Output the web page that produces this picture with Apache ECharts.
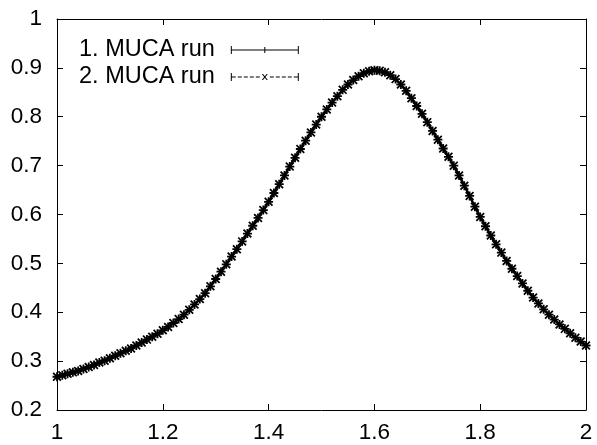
<!DOCTYPE html>
<html>
<head>
<meta charset="utf-8">
<script src="https://cdn.jsdelivr.net/npm/echarts@6/dist/echarts.min.js"></script>
<style>
html,body{margin:0;padding:0;background:#fff;}
#c{width:597px;height:445px;}
</style>
</head>
<body>
<div id="c"></div>
<script>
var xValues = [1.00,1.01,1.02,1.03,1.04,1.05,1.06,1.07,1.08,1.09,
  1.10,1.11,1.12,1.13,1.14,1.15,1.16,1.17,1.18,1.19,
  1.20,1.21,1.22,1.23,1.24,1.25,1.26,1.27,1.28,1.29,
  1.30,1.31,1.32,1.33,1.34,1.35,1.36,1.37,1.38,1.39,
  1.40,1.41,1.42,1.43,1.44,1.45,1.46,1.47,1.48,1.49,
  1.50,1.51,1.52,1.53,1.54,1.55,1.56,1.57,1.58,1.59,
  1.60,1.61,1.62,1.63,1.64,1.65,1.66,1.67,1.68,1.69,
  1.70,1.71,1.72,1.73,1.74,1.75,1.76,1.77,1.78,1.79,
  1.80,1.81,1.82,1.83,1.84,1.85,1.86,1.87,1.88,1.89,
  1.90,1.91,1.92,1.93,1.94,1.95,1.96,1.97,1.98,1.99,2.00];

var run1 = [0.268,0.271,0.274,0.277,0.280,0.284,0.288,0.292,0.297,0.301,
  0.306,0.311,0.316,0.321,0.326,0.332,0.338,0.344,0.350,0.356,
  0.363,0.370,0.378,0.386,0.395,0.405,0.416,0.427,0.439,0.453,
  0.468,0.483,0.498,0.514,0.529,0.545,0.561,0.577,0.593,0.609,
  0.626,0.644,0.662,0.680,0.698,0.716,0.734,0.751,0.768,0.784,
  0.800,0.815,0.829,0.842,0.855,0.866,0.875,0.883,0.889,0.893,
  0.895,0.894,0.891,0.885,0.877,0.866,0.853,0.838,0.822,0.806,
  0.789,0.771,0.753,0.735,0.718,0.700,0.680,0.659,0.638,0.616,
  0.595,0.576,0.557,0.539,0.522,0.505,0.489,0.474,0.459,0.444,
  0.430,0.418,0.406,0.395,0.385,0.375,0.366,0.357,0.348,0.340,0.332];

var run2 = [0.268,0.271,0.274,0.277,0.280,0.284,0.288,0.292,0.297,0.301,
  0.306,0.311,0.316,0.321,0.326,0.332,0.338,0.344,0.350,0.356,
  0.363,0.370,0.378,0.386,0.395,0.405,0.416,0.427,0.439,0.453,
  0.468,0.483,0.498,0.514,0.529,0.545,0.561,0.577,0.593,0.609,
  0.626,0.644,0.662,0.680,0.698,0.716,0.734,0.751,0.768,0.784,
  0.800,0.815,0.829,0.842,0.855,0.866,0.875,0.883,0.889,0.893,
  0.895,0.894,0.891,0.885,0.877,0.866,0.853,0.838,0.822,0.806,
  0.789,0.771,0.753,0.735,0.718,0.700,0.680,0.659,0.638,0.616,
  0.595,0.576,0.557,0.539,0.522,0.505,0.489,0.474,0.459,0.444,
  0.430,0.418,0.406,0.395,0.385,0.375,0.366,0.357,0.348,0.340,0.332];

var seriesNames = ['1. MUCA run', '2. MUCA run'];
var xTickLabels = ['1', '1.2', '1.4', '1.6', '1.8', '2'];
var yTickLabels = ['0.2', '0.3', '0.4', '0.5', '0.6', '0.7', '0.8', '0.9', '1'];

function pairs(xs, ys) {
  var out = [];
  for (var i = 0; i < xs.length; i++) out.push([xs[i], ys[i]]);
  return out;
}

var FONT = 'Liberation Sans, Arial, Helvetica, sans-serif';
var plusSym = 'path://M0,3.2H8V4.8H0Z M3.2,0H4.8V8H3.2Z';
var crossSym = 'path://M0,1.1L1.1,0L8,6.9L6.9,8Z M6.9,0L8,1.1L1.1,8L0,6.9Z';

var legIcon1 = 'path://M0,3.5H68V4.5H0Z M0,0H1V8H0Z M67,0H68V8H67Z M33.5,1H34.5V7H33.5Z';
var legIcon2 = 'path://M0,0H1V8H0Z M67,0H68V8H67Z ' +
  'M1,3.5H5V4.5H1Z M7,3.5H11V4.5H7Z M13,3.5H17V4.5H13Z M19,3.5H23V4.5H19Z M25,3.5H29V4.5H25Z ' +
  'M39,3.5H43V4.5H39Z M45,3.5H49V4.5H45Z M51,3.5H55V4.5H51Z M57,3.5H61V4.5H57Z M63,3.5H67V4.5H63Z ' +
  'M31,1L32.2,1L37,7L35.8,7Z M35.8,1L37,1L32.2,7L31,7Z';

var axisCommon = {
  type: 'value',
  axisLine: { show: true, onZero: false, lineStyle: { color: '#000', width: 1 } },
  axisTick: { show: true, inside: true, length: 6, lineStyle: { color: '#000', width: 1 } },
  splitLine: { show: false }
};

function ax(extra) { return Object.assign({}, JSON.parse(JSON.stringify(axisCommon)), extra); }

var chart = echarts.init(document.getElementById('c'), null, { renderer: 'canvas' });
chart.setOption({
  animation: false,
  backgroundColor: '#fff',
  grid: { left: 57, right: 11, top: 19, bottom: 35, outerBoundsMode: 'none' },
  legend: {
    orient: 'vertical',
    left: 79,
    top: 38,
    padding: 0,
    align: 'right',
    itemWidth: 68,
    itemHeight: 8,
    itemGap: 3,
    textStyle: { fontSize: 23.5, fontFamily: FONT, color: '#000', lineHeight: 22, padding: [0, 11, 0, 0] },
    data: [
      { name: seriesNames[0], icon: legIcon1 },
      { name: seriesNames[1], icon: legIcon2 }
    ]
  },
  xAxis: [
    ax({ position: 'bottom', min: 1, max: 2, interval: 0.2,
      axisLabel: { color: '#000', fontSize: 22.5, fontFamily: FONT, margin: 11,
        formatter: function (v, i) { return xTickLabels[i]; } } }),
    ax({ position: 'top', min: 1, max: 2, interval: 0.2, axisLabel: { show: false } })
  ],
  yAxis: [
    ax({ position: 'left', min: 0.2, max: 1, interval: 0.1,
      axisLabel: { color: '#000', fontSize: 22.5, fontFamily: FONT, margin: 15,
        formatter: function (v, i) { return yTickLabels[i]; } } }),
    ax({ position: 'right', min: 0.2, max: 1, interval: 0.1, axisLabel: { show: false } })
  ],
  series: [
    {
      name: seriesNames[0], type: 'line', xAxisIndex: 0, yAxisIndex: 0,
      data: pairs(xValues, run1),
      symbol: plusSym, symbolSize: 9,
      lineStyle: { color: '#000', width: 2.5 },
      itemStyle: { color: '#000' },
      emphasis: { disabled: true }
    },
    {
      name: seriesNames[1], type: 'line', xAxisIndex: 0, yAxisIndex: 0,
      data: pairs(xValues, run2),
      symbol: crossSym, symbolSize: 9,
      lineStyle: { color: '#000', width: 1, type: [4, 2] },
      itemStyle: { color: '#000' },
      emphasis: { disabled: true }
    }
  ]
});
</script>
</body>
</html>
